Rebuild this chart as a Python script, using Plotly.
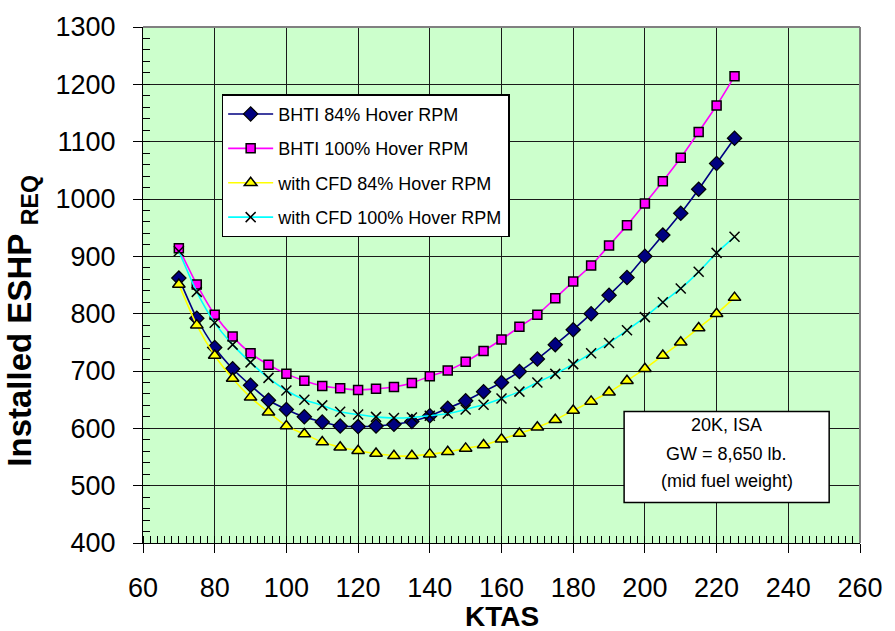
import plotly.graph_objects as go

speeds = [70, 75, 80, 85, 90, 95, 100, 105, 110, 115, 120, 125, 130, 135, 140, 145,
          150, 155, 160, 165, 170, 175, 180, 185, 190, 195, 200, 205, 210, 215, 220, 225]

bhti84 = [862, 792, 741, 704, 675, 649, 633, 620, 611, 604, 603, 604, 607, 612, 622, 635,
          648, 664, 680, 699, 721, 746, 772, 800, 832, 863, 900, 937, 975, 1017, 1062, 1106]
bhti100 = [914, 851, 798, 760, 731, 711, 695, 683, 674, 670, 667, 669, 672, 679, 691, 701,
           716, 735, 755, 777, 798, 827, 856, 884, 919, 954, 992, 1031, 1072, 1117, 1163, 1214]
cfd84 = [851, 780, 727, 687, 654, 628, 604, 590, 576, 567, 561, 556, 552, 552, 555, 559,
         565, 571, 581, 591, 602, 615, 631, 647, 663, 683, 704, 727, 750, 775, 800, 828]
cfd100 = [909, 838, 784, 746, 715, 688, 666, 650, 640, 629, 624, 620, 618, 619, 622, 626,
          633, 641, 652, 664, 680, 695, 712, 731, 749, 771, 794, 820, 844, 873, 906, 934]

names = ["BHTI 84% Hover RPM", "BHTI 100% Hover RPM",
         "with CFD 84% Hover RPM", "with CFD 100% Hover RPM"]
note_lines = ["20K, ISA", "GW = 8,650 lb.", "(mid fuel weight)"]

FONT = "Liberation Sans, Arial, sans-serif"

series = [
    (bhti84, "#000080", dict(symbol="diamond", size=11, color="#000080",
                             line=dict(color="#000000", width=1.2))),
    (bhti100, "#FF00FF", dict(symbol="square", size=9, color="#FF00FF",
                              line=dict(color="#000000", width=1.5))),
    (cfd84, "#FFFF00", dict(symbol="triangle-up", size=11, color="#FFFF00",
                            line=dict(color="#000000", width=1.5))),
    (cfd100, "#00FFFF", dict(symbol="x-thin", size=10, color="#000000",
                             line=dict(color="#000000", width=1.5))),
]

fig = go.Figure()
for i, (vals, lc, mk) in enumerate(series):
    fig.add_trace(go.Scatter(
        x=speeds, y=vals, name=names[i], mode="lines+markers",
        line=dict(color=lc, width=1.6, shape="spline", smoothing=0.6),
        marker=mk, legendgroup=f"g{i}",
    ))

axis_common = dict(
    showline=True, linecolor="#000000", linewidth=1,
    showgrid=True, gridcolor="#1a1a1a", gridwidth=1,
    ticks="outside", ticklen=9, tickcolor="#000000", tickwidth=1,
    tickfont=dict(family=FONT, size=27, color="#000000"),
    zeroline=False,
)

fig.update_xaxes(range=[60, 260], dtick=20, tick0=60, ticklabelstandoff=12,
                 minor=dict(ticks="inside", ticklen=7, dtick=2, tickcolor="#000000",
                            showgrid=False),
                 **axis_common)
fig.update_yaxes(range=[400, 1300], dtick=100, tick0=400, ticklabelstandoff=12,
                 minor=dict(ticks="inside", ticklen=7, dtick=20, tickcolor="#000000",
                            showgrid=False),
                 **axis_common)

shapes = [
    dict(type="line", xref="paper", yref="paper", x0=0, x1=1, y0=1, y1=1,
         line=dict(color="#808080", width=2)),
    dict(type="line", xref="paper", yref="paper", x0=1, x1=1, y0=0, y1=1,
         line=dict(color="#808080", width=2)),
    dict(type="rect", xref="paper", yref="paper", x0=0.671, x1=0.957, y0=0.0785, y1=0.2548,
         fillcolor="#FFFFFF", line=dict(color="#000000", width=1.5), layer="above"),
]

annotations = [
    dict(text="Installed ESHP <sub>REQ</sub>", xref="paper", yref="paper",
         x=-0.168, y=0.43, xanchor="center", yanchor="middle", textangle=-90,
         showarrow=False, font=dict(family=FONT, size=33, color="#000000", weight="bold")),
    dict(text="KTAS", xref="paper", yref="paper", x=0.5, y=-0.142,
         xanchor="center", yanchor="middle", showarrow=False,
         font=dict(family=FONT, size=28, color="#000000", weight="bold")),
]
for txt, yy in zip(note_lines, [0.228, 0.172, 0.120]):
    annotations.append(dict(text=txt, xref="paper", yref="paper", x=0.814, y=yy,
                            xanchor="center", yanchor="middle", showarrow=False,
                            font=dict(family=FONT, size=18, color="#000000")))

fig.update_layout(
    width=895, height=631,
    margin=dict(l=143, r=25, t=21, b=88),
    paper_bgcolor="#FFFFFF", plot_bgcolor="#CCFFCC",
    font=dict(family=FONT, color="#000000"),
    showlegend=True,
    legend=dict(x=0.1097, y=0.8697, xanchor="left", yanchor="top",
                bgcolor="#FFFFFF", bordercolor="#000000", borderwidth=1.5,
                font=dict(family=FONT, size=18, color="#000000"),
                tracegroupgap=8, itemwidth=45),
    shapes=shapes, annotations=annotations,
)

fig.write_html("out.html")
